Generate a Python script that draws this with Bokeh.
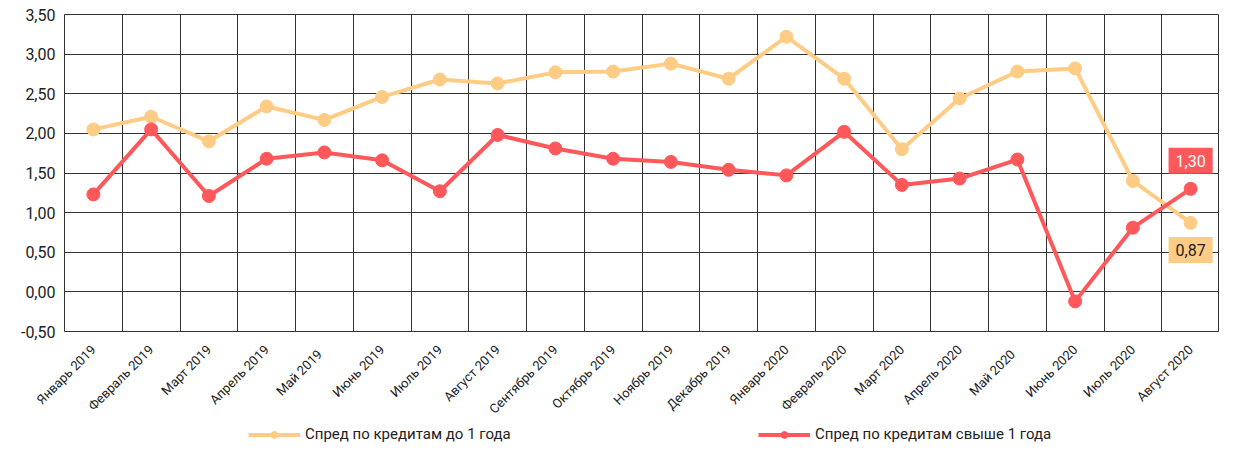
from bokeh.plotting import figure
from bokeh.layouts import column
from bokeh.models import FixedTicker, Legend, LegendItem, Label, Range1d
from bokeh.embed import file_html
from bokeh.resources import INLINE

months = ["Январь 2019", "Февраль 2019", "Март 2019", "Апрель 2019", "Май   2019",
          "Июнь 2019", "Июль 2019", "Август 2019", "Сентябрь 2019", "Октябрь 2019",
          "Ноябрь 2019", "Декабрь 2019", "Январь 2020", "Февраль 2020", "Март 2020",
          "Апрель 2020", "Май   2020", "Июнь 2020", "Июль 2020", "Август 2020"]
short_spread = [2.05, 2.21, 1.90, 2.34, 2.17, 2.46, 2.68, 2.63, 2.77, 2.78,
                2.88, 2.69, 3.22, 2.69, 1.80, 2.44, 2.78, 2.82, 1.40, 0.87]
long_spread = [1.23, 2.05, 1.21, 1.68, 1.76, 1.66, 1.27, 1.98, 1.81, 1.68,
               1.64, 1.54, 1.47, 2.02, 1.35, 1.43, 1.67, -0.12, 0.81, 1.30]
y_ticks = [-0.5, 0.0, 0.5, 1.0, 1.5, 2.0, 2.5, 3.0, 3.5]
y_labels = ["-0,50", "0,00", "0,50", "1,00", "1,50", "2,00", "2,50", "3,00", "3,50"]
series_names = ["Спред по кредитам до 1 года", "Спред по кредитам свыше 1 года"]
last_labels = ["0,87", "1,30"]

ORANGE = "#FFCC85"
RED = "#FF585B"
GRID = "#333333"
FONT = "Roboto"

xs = list(range(len(months)))

p = figure(width=1219, height=424, output_backend="svg", toolbar_location=None,
           x_range=Range1d(-0.5, len(months) - 0.5), y_range=Range1d(-0.5, 3.5),
           min_border_left=64, min_border_top=14, min_border_right=0,
           min_border_bottom=93)

p.outline_line_color = GRID
p.outline_line_width = 1

p.xaxis.ticker = FixedTicker(ticks=xs)
p.xaxis.major_label_overrides = {i: m for i, m in enumerate(months)}
p.xaxis.major_label_orientation = 0.785398
p.xaxis.axis_line_color = None
p.xaxis.major_tick_line_color = None
p.xaxis.minor_tick_line_color = None
p.xaxis.major_label_text_font = FONT
p.xaxis.major_label_text_font_size = "13px"
p.xaxis.major_label_text_color = "#222222"
p.xaxis.major_label_standoff = 10

p.yaxis.ticker = FixedTicker(ticks=y_ticks)
p.yaxis.major_label_overrides = {t: l for t, l in zip(y_ticks, y_labels)}
p.yaxis.axis_line_color = None
p.yaxis.major_tick_line_color = None
p.yaxis.minor_tick_line_color = None
p.yaxis.major_label_text_font = FONT
p.yaxis.major_label_text_font_size = "16px"
p.yaxis.major_label_text_color = "#222222"
p.yaxis.major_label_standoff = 3

p.xgrid.ticker = FixedTicker(ticks=[i - 0.5 for i in range(len(months) + 1)])
p.xgrid.grid_line_color = GRID
p.xgrid.grid_line_width = 1
p.ygrid.ticker = FixedTicker(ticks=y_ticks)
p.ygrid.grid_line_color = GRID
p.ygrid.grid_line_width = 1

p.line(xs, short_spread, line_color=ORANGE, line_width=4)
p.scatter(xs, short_spread, size=13, fill_color=ORANGE, line_color=ORANGE)
p.line(xs, long_spread, line_color=RED, line_width=4)
p.scatter(xs, long_spread, size=13, fill_color=RED, line_color=RED)

lab1 = Label(x=xs[-1], y=short_spread[-1], text=last_labels[0], x_offset=0, y_offset=-27,
             text_align="center", text_baseline="middle", text_font=FONT,
             text_font_size="16px", text_color="#222222",
             background_fill_color=ORANGE, padding=7)
lab2 = Label(x=xs[-1], y=long_spread[-1], text=last_labels[1], x_offset=0, y_offset=28,
             text_align="center", text_baseline="middle", text_font=FONT,
             text_font_size="16px", text_color="white",
             background_fill_color=RED, padding=7)
p.add_layout(lab1)
p.add_layout(lab2)

# legend strip below the chart
p2 = figure(width=1219, height=19, output_backend="svg", toolbar_location=None,
            x_range=Range1d(1000, 1001), y_range=Range1d(1000, 1001),
            min_border=0)
p2.axis.visible = False
p2.grid.visible = False
p2.outline_line_color = None
k1 = p2.line(xs, short_spread, line_color=ORANGE, line_width=4)
m1 = p2.scatter(xs, short_spread, size=12, fill_color=ORANGE, line_color=ORANGE)
k2 = p2.line(xs, long_spread, line_color=RED, line_width=4)
m2 = p2.scatter(xs, long_spread, size=12, fill_color=RED, line_color=RED)

legend = Legend(items=[LegendItem(label=series_names[0], renderers=[k1, m1]),
                       LegendItem(label=series_names[1], renderers=[k2, m2])],
                orientation="horizontal", location=(184, 0),
                glyph_width=52, glyph_height=17, label_height=17,
                label_standoff=5, label_width=225, spacing=228,
                label_text_font=FONT, label_text_font_size="15px",
                label_text_color="#222222", border_line_color=None,
                background_fill_alpha=0, margin=0, padding=1)
p2.add_layout(legend, "center")

open("out.html", "w").write(file_html(column(p, p2), INLINE))
